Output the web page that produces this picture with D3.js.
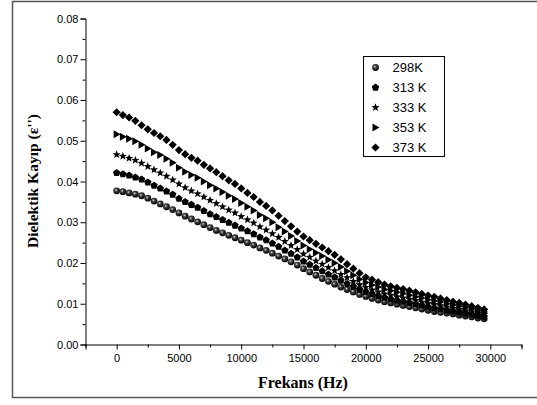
<!DOCTYPE html>
<html>
<head>
<meta charset="utf-8">
<script src="https://cdn.jsdelivr.net/npm/d3@7"></script>
<style>
  body { margin: 0; background: #fff; }
  svg { display: block; }
</style>
</head>
<body>
<svg id="chart"></svg>
<script>
// frequency (Hz)
var freq = [0, 500, 1000, 1500, 2000, 2500, 3000, 3500, 4000, 4500,
  5000, 5500, 6000, 6500, 7000, 7500, 8000, 8500, 9000, 9500,
  10000, 10500, 11000, 11500, 12000, 12500, 13000, 13500, 14000, 14500,
  15000, 15500, 16000, 16500, 17000, 17500, 18000, 18500, 19000, 19500,
  20000, 20500, 21000, 21500, 22000, 22500, 23000, 23500, 24000, 24500,
  25000, 25500, 26000, 26500, 27000, 27500, 28000, 28500, 29000, 29500];

var k298 = [0.0377, 0.0375, 0.0372, 0.0369, 0.0365, 0.0359, 0.0352, 0.0345, 0.0338, 0.0331,
  0.0323, 0.0315, 0.0308, 0.0301, 0.0294, 0.0287, 0.0280, 0.0274, 0.0268, 0.0262,
  0.0256, 0.0250, 0.0244, 0.0237, 0.0231, 0.0224, 0.0217, 0.0210, 0.0203, 0.0195,
  0.0186, 0.0178, 0.0170, 0.0162, 0.0155, 0.0148, 0.0141, 0.0135, 0.0129, 0.0123,
  0.0118, 0.0113, 0.0109, 0.0105, 0.0102, 0.0099, 0.0096, 0.0093, 0.0090, 0.0087,
  0.0084, 0.0081, 0.0079, 0.0077, 0.0075, 0.0072, 0.0070, 0.0068, 0.0065, 0.0063];

var k313 = [0.0421, 0.0418, 0.0415, 0.0410, 0.0405, 0.0398, 0.0390, 0.0383, 0.0376, 0.0368,
  0.0358, 0.0350, 0.0343, 0.0336, 0.0328, 0.0320, 0.0313, 0.0306, 0.0299, 0.0292,
  0.0285, 0.0278, 0.0271, 0.0263, 0.0256, 0.0248, 0.0240, 0.0231, 0.0223, 0.0214,
  0.0204, 0.0196, 0.0188, 0.0180, 0.0172, 0.0165, 0.0157, 0.0149, 0.0142, 0.0135,
  0.0129, 0.0124, 0.0119, 0.0115, 0.0111, 0.0108, 0.0105, 0.0102, 0.0099, 0.0096,
  0.0092, 0.0089, 0.0087, 0.0084, 0.0082, 0.0079, 0.0076, 0.0074, 0.0071, 0.0068];

var k333 = [0.0466, 0.0462, 0.0457, 0.0452, 0.0445, 0.0437, 0.0429, 0.0421, 0.0413, 0.0404,
  0.0394, 0.0385, 0.0377, 0.0370, 0.0362, 0.0354, 0.0346, 0.0338, 0.0330, 0.0323,
  0.0314, 0.0306, 0.0298, 0.0289, 0.0281, 0.0272, 0.0263, 0.0253, 0.0243, 0.0233,
  0.0222, 0.0214, 0.0205, 0.0197, 0.0189, 0.0181, 0.0172, 0.0164, 0.0155, 0.0147,
  0.0140, 0.0134, 0.0129, 0.0124, 0.0121, 0.0117, 0.0114, 0.0111, 0.0108, 0.0104,
  0.0101, 0.0098, 0.0095, 0.0092, 0.0089, 0.0086, 0.0083, 0.0080, 0.0077, 0.0074];

var k353 = [0.0516, 0.0510, 0.0505, 0.0499, 0.0490, 0.0481, 0.0472, 0.0465, 0.0456, 0.0446,
  0.0434, 0.0424, 0.0416, 0.0409, 0.0400, 0.0391, 0.0383, 0.0374, 0.0365, 0.0357,
  0.0347, 0.0338, 0.0329, 0.0318, 0.0310, 0.0300, 0.0288, 0.0277, 0.0266, 0.0254,
  0.0243, 0.0234, 0.0225, 0.0217, 0.0208, 0.0200, 0.0190, 0.0180, 0.0170, 0.0160,
  0.0152, 0.0146, 0.0141, 0.0135, 0.0132, 0.0128, 0.0125, 0.0121, 0.0117, 0.0114,
  0.0110, 0.0107, 0.0104, 0.0100, 0.0097, 0.0094, 0.0090, 0.0087, 0.0083, 0.0080];

var k373 = [0.0570, 0.0563, 0.0557, 0.0549, 0.0538, 0.0528, 0.0519, 0.0511, 0.0502, 0.0490,
  0.0477, 0.0467, 0.0458, 0.0451, 0.0441, 0.0432, 0.0423, 0.0413, 0.0403, 0.0394,
  0.0383, 0.0372, 0.0362, 0.0350, 0.0340, 0.0329, 0.0316, 0.0303, 0.0290, 0.0277,
  0.0265, 0.0256, 0.0247, 0.0238, 0.0229, 0.0220, 0.0209, 0.0197, 0.0186, 0.0175,
  0.0165, 0.0159, 0.0153, 0.0147, 0.0143, 0.0139, 0.0136, 0.0132, 0.0128, 0.0124,
  0.0120, 0.0117, 0.0113, 0.0109, 0.0105, 0.0102, 0.0098, 0.0094, 0.0090, 0.0086];

var seriesNames = ["298K", "313 K", "333 K", "353 K", "373 K"];
var seriesValues = [k298, k313, k333, k353, k373];
var seriesShapes = ["sphere", "pentagon", "star", "triangle", "diamond"];

var yTicks = [0, 0.01, 0.02, 0.03, 0.04, 0.05, 0.06, 0.07, 0.08];
var xTicks = [0, 5000, 10000, 15000, 20000, 25000, 30000];

var width = 537, height = 405;

var svg = d3.select("#chart")
    .attr("width", width)
    .attr("height", height);

// outer frame
svg.append("rect")
    .attr("x", 12.5).attr("y", 1.5)
    .attr("width", 540).attr("height", 396)
    .attr("fill", "none")
    .attr("stroke", "#555")
    .attr("stroke-width", 1.5);

// scales
var x = d3.scaleLinear().domain([-2500, 32500]).range([85.5, 521.5]);
var y = d3.scaleLinear().domain([0, 0.08]).range([344.5, 18.5]);

// sphere gradient
var defs = svg.append("defs");
var grad = defs.append("radialGradient")
    .attr("id", "sphere")
    .attr("cx", "40%").attr("cy", "38%").attr("r", "60%");
grad.append("stop").attr("offset", "0%").attr("stop-color", "#d8d8d8");
grad.append("stop").attr("offset", "35%").attr("stop-color", "#444");
grad.append("stop").attr("offset", "100%").attr("stop-color", "#000");

// marker paths
function pentagon(r) {
    var p = d3.path();
    for (var i = 0; i < 5; i++) {
        var a = -Math.PI / 2 + i * 2 * Math.PI / 5;
        if (i == 0) p.moveTo(r * Math.cos(a), r * Math.sin(a));
        else p.lineTo(r * Math.cos(a), r * Math.sin(a));
    }
    p.closePath();
    return p.toString();
}
function star(r) {
    var p = d3.path();
    for (var i = 0; i < 10; i++) {
        var a = -Math.PI / 2 + i * Math.PI / 5;
        var rr = (i % 2 == 0) ? r : r * 0.42;
        if (i == 0) p.moveTo(rr * Math.cos(a), rr * Math.sin(a));
        else p.lineTo(rr * Math.cos(a), rr * Math.sin(a));
    }
    p.closePath();
    return p.toString();
}
function triangle(r) {
    return "M" + (-r * 0.75) + "," + (-r) + "L" + r + ",0L" + (-r * 0.75) + "," + r + "Z";
}
function diamond(r) {
    return "M0," + (-r) + "L" + r + ",0L0," + r + "L" + (-r) + ",0Z";
}

function drawMarker(g, shape, cx, cy) {
    if (shape == "sphere") {
        g.append("circle")
            .attr("cx", cx).attr("cy", cy).attr("r", 3.4)
            .attr("fill", "url(#sphere)");
        return;
    }
    var d;
    if (shape == "pentagon") d = pentagon(3.9);
    else if (shape == "star") d = star(4.3);
    else if (shape == "triangle") d = triangle(4.0);
    else d = diamond(4.1);
    g.append("path")
        .attr("d", d)
        .attr("transform", "translate(" + cx + "," + cy + ")")
        .attr("fill", "#000");
}

// axes
var yMinor = [];
for (var v = 0.005; v < 0.08; v += 0.01) yMinor.push(v);
var xMinor = [];
for (var v = -2500; v <= 32500; v += 5000) xMinor.push(v);

var gy = svg.append("g")
    .attr("transform", "translate(85.5,0)")
    .call(d3.axisLeft(y).tickValues(yTicks).tickFormat(d3.format(".2f")).tickSizeOuter(0).tickSize(5));
svg.append("g")
    .attr("transform", "translate(85.5,0)")
    .call(d3.axisLeft(y).tickValues(yMinor).tickFormat("").tickSizeOuter(0).tickSize(3))
    .select(".domain").remove();

var gx = svg.append("g")
    .attr("transform", "translate(0,344.5)")
    .call(d3.axisBottom(x).tickValues(xTicks).tickFormat(d3.format("d")).tickSizeOuter(0).tickSize(5));
svg.append("g")
    .attr("transform", "translate(0,344.5)")
    .call(d3.axisBottom(x).tickValues(xMinor).tickFormat("").tickSizeOuter(0).tickSize(3))
    .select(".domain").remove();

svg.selectAll(".tick text")
    .attr("font-family", "Liberation Sans, Arial, sans-serif")
    .attr("font-size", 11)
    .attr("fill", "#000");
gy.selectAll(".tick text").attr("x", -7);
gx.selectAll(".tick text").attr("y", 10);
svg.selectAll(".domain, .tick line").attr("stroke", "#000");

// axis titles
svg.append("text")
    .attr("x", 303).attr("y", 388)
    .attr("text-anchor", "middle")
    .attr("font-family", "Liberation Serif, Times New Roman, serif")
    .attr("font-weight", "bold")
    .attr("font-size", 16)
    .text("Frekans (Hz)");

svg.append("text")
    .attr("transform", "translate(38,181) rotate(-90)")
    .attr("text-anchor", "middle")
    .attr("font-family", "Liberation Serif, Times New Roman, serif")
    .attr("font-weight", "bold")
    .attr("font-size", 15.5)
    .text("Dielektik Kayıp (ε'')");

// data points
seriesValues.forEach(function(vals, s) {
    var g = svg.append("g").attr("class", "series" + s);
    vals.forEach(function(d, i) {
        drawMarker(g, seriesShapes[s], x(freq[i]), y(d));
    });
});

// legend
var legend = svg.append("g").attr("transform", "translate(363.5,56.5)");
legend.append("rect")
    .attr("width", 81).attr("height", 100)
    .attr("fill", "#fff")
    .attr("stroke", "#000")
    .attr("stroke-width", 1);
seriesNames.forEach(function(name, s) {
    var ly = 11 + s * 20;
    drawMarker(legend, seriesShapes[s], 12, ly);
    legend.append("text")
        .attr("x", 29).attr("y", ly + 4.5)
        .attr("font-family", "Liberation Sans, Arial, sans-serif")
        .attr("font-size", 13)
        .attr("fill", "#000")
        .text(name);
});
</script>
</body>
</html>
